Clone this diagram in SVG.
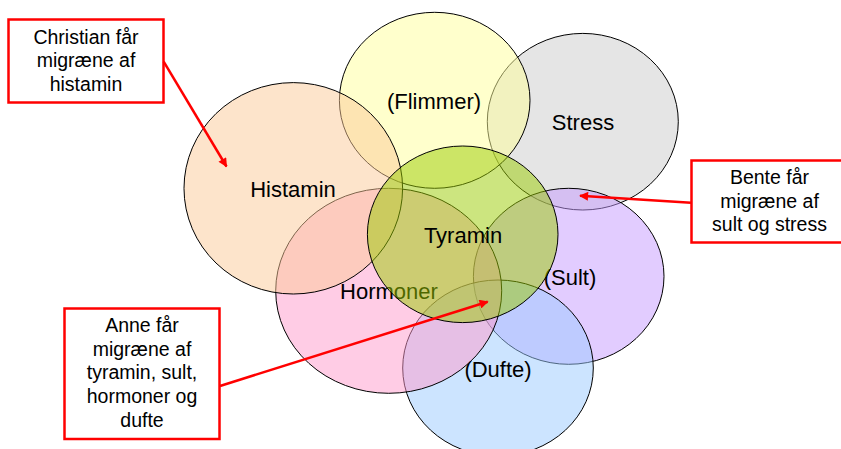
<svg xmlns="http://www.w3.org/2000/svg" width="841" height="449" viewBox="0 0 841 449">
<style>
.e{stroke:#000;stroke-width:1;fill-opacity:0.5}
.lbl{font-family:"Liberation Sans",Arial,sans-serif;font-size:22px;fill:#000;text-anchor:middle}
.box{fill:#fff;stroke:#ff0000;stroke-width:2.5}
.ct{font-family:"Liberation Sans",Arial,sans-serif;font-size:19.5px;fill:#000;text-anchor:middle}
.arr{stroke:#ff0000;stroke-width:2.5;fill:none;marker-end:url(#ah)}
</style>
<defs>
<marker id="ah" viewBox="0 0 10 10" refX="9" refY="5" markerWidth="4" markerHeight="3.6" orient="auto" markerUnits="strokeWidth">
<path d="M0,0 L10,5 L0,10 z" fill="#ff0000"/>
</marker>
</defs>
<rect width="841" height="449" fill="#fff"/>
<g id="stress">
<ellipse class="e" cx="582.8" cy="121.7" rx="95.5" ry="88.3" fill="#cccccc"/>
<text class="lbl" x="583" y="130">Stress</text>
</g>
<g id="sult">
<ellipse class="e" cx="568.7" cy="276.3" rx="95.3" ry="88" fill="#c599ff"/>
<text class="lbl" x="570" y="285">(Sult)</text>
</g>
<g id="dufte">
<ellipse class="e" cx="498" cy="368" rx="95.3" ry="88" fill="#99c9ff"/>
<text class="lbl" x="498" y="377">(Dufte)</text>
</g>
<g id="hormoner">
<ellipse class="e" cx="388.7" cy="290.8" rx="113" ry="102.5" fill="#ff99cc"/>
<text class="lbl" x="389" y="299">Hormoner</text>
</g>
<g id="flimmer">
<ellipse class="e" cx="434.7" cy="100.3" rx="95.3" ry="88" fill="#ffff99"/>
<text class="lbl" x="434" y="109">(Flimmer)</text>
</g>
<g id="histamin">
<ellipse class="e" cx="293.3" cy="188.3" rx="109.3" ry="105.7" fill="#fbc998"/>
<text class="lbl" x="293" y="197">Histamin</text>
</g>
<g id="tyramin">
<ellipse class="e" cx="462.7" cy="234.3" rx="95.3" ry="88.3" fill="#99cc00"/>
<text class="lbl" x="463" y="243">Tyramin</text>
</g>
<g id="christian">
<rect class="box" x="8.5" y="19.5" width="155" height="83"/>
<text class="ct" x="86" y="43.5">Christian får</text>
<text class="ct" x="86" y="67.2">migræne af</text>
<text class="ct" x="86" y="91">histamin</text>
</g>
<g id="bente">
<rect class="box" x="691.5" y="160.5" width="160" height="82"/>
<text class="ct" x="769.5" y="184.3">Bente får</text>
<text class="ct" x="769.5" y="207.8">migræne af</text>
<text class="ct" x="769.5" y="231.3">sult og stress</text>
</g>
<g id="anne">
<rect class="box" x="64.5" y="308.5" width="155" height="130.5"/>
<text class="ct" x="142" y="332">Anne får</text>
<text class="ct" x="142" y="355.7">migræne af</text>
<text class="ct" x="142" y="379.4">tyramin, sult,</text>
<text class="ct" x="142" y="403.1">hormoner og</text>
<text class="ct" x="142" y="426.8">dufte</text>
</g>
<g id="connectors">
<line class="arr" x1="163.7" y1="61.7" x2="226.5" y2="166.5"/>
<line class="arr" x1="691" y1="202.7" x2="580" y2="195.7"/>
<line class="arr" x1="220" y1="386" x2="487.7" y2="301.7"/>
</g>
</svg>
